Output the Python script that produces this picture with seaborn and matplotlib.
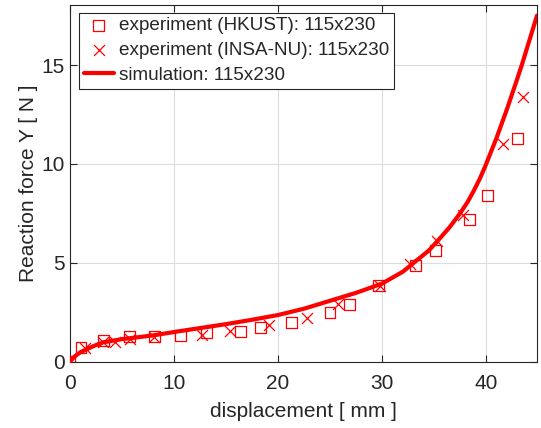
import matplotlib
matplotlib.use("Agg")
import matplotlib.pyplot as plt
import seaborn as sns
import pandas as pd

# HKUST experiment (squares)
hk_x = [0, 1.06, 3.2, 5.7, 8.1, 10.65, 13.15, 16.4, 18.3, 21.3, 25.0, 26.9, 29.7, 33.2, 35.1, 38.4, 40.1, 43.0]
hk_y = [0, 0.71, 1.06, 1.27, 1.27, 1.31, 1.48, 1.52, 1.72, 1.97, 2.5, 2.9, 3.85, 4.86, 5.6, 7.17, 8.4, 11.28]

# INSA-NU experiment (crosses)
in_x = [0, 1.44, 3.2, 4.33, 5.77, 8.1, 12.7, 15.4, 19.1, 22.8, 25.8, 29.8, 32.7, 35.3, 37.8, 41.6, 43.6]
in_y = [0, 0.71, 1.01, 1.01, 1.13, 1.27, 1.35, 1.55, 1.86, 2.2, 2.9, 3.85, 4.95, 6.08, 7.43, 11.0, 13.37]

# simulation curve
sim_x = [0, 0.3, 0.64, 1.0, 1.6, 2.3, 3.2, 5.0, 8.0, 10.0, 12.5, 15.0, 17.5, 20.0, 22.5, 25.0, 27.5, 30.0, 32.0, 33.0, 34.5, 35.5, 36.5, 37.5, 38.2, 38.8, 39.4, 39.9, 41.0, 42.0, 43.0, 43.5, 44.2, 44.9]
sim_y = [0, 0.2, 0.34, 0.48, 0.63, 0.8, 0.98, 1.14, 1.33, 1.5, 1.7, 1.9, 2.12, 2.36, 2.68, 3.08, 3.48, 3.95, 4.55, 4.98, 5.62, 6.2, 6.8, 7.5, 8.05, 8.62, 9.25, 9.85, 11.3, 12.75, 14.3, 15.1, 16.3, 17.5]

labels = ["experiment (HKUST): 115x230", "experiment (INSA-NU): 115x230", "simulation: 115x230"]

sns.set_style("ticks")
plt.rcParams['font.family'] = ['Liberation Sans', 'DejaVu Sans']

fig = plt.figure(figsize=(5.41, 4.28), dpi=100)
ax = fig.add_axes([70/541, (428-361.7)/428, (537-70)/541, (361.7-4.7)/428])

df_hk = pd.DataFrame({"x": hk_x, "y": hk_y})
df_in = pd.DataFrame({"x": in_x, "y": in_y})
df_sim = pd.DataFrame({"x": sim_x, "y": sim_y})

sns.scatterplot(data=df_hk, x="x", y="y", ax=ax, marker="s", s=62,
                facecolors="none", edgecolor="red", linewidth=0.9, label=labels[0], zorder=3)
sns.scatterplot(data=df_in, x="x", y="y", ax=ax, marker="x", s=62,
                color="red", linewidth=0.9, label=labels[1], zorder=3)
sns.lineplot(data=df_sim, x="x", y="y", ax=ax, color="red", linewidth=3.0,
             label=labels[2], zorder=4, sort=False)

ax.set_xlim(0, 44.9)
ax.set_ylim(0, 18.05)
ax.set_xticks([0, 10, 20, 30, 40])
ax.set_yticks([0, 5, 10, 15])
ax.grid(True, color="#dcdcdc", linewidth=0.8)
ax.set_axisbelow(True)
for sp in ax.spines.values():
    sp.set_visible(True)
    sp.set_color("#262626")
    sp.set_linewidth(0.8)
ax.tick_params(direction="in", top=True, right=True, length=5, width=0.8,
               labelsize=15, colors="#262626", labelcolor="#262626")
ax.tick_params(axis="x", pad=9)
ax.tick_params(axis="y", pad=4)
ax.set_xlabel("displacement [ mm ]", fontsize=15, color="#262626", labelpad=6)
ax.set_ylabel("Reaction force Y [ N ]", fontsize=15, color="#262626", labelpad=2)

leg = ax.legend(loc="upper left", bbox_to_anchor=(0.019, 0.978), fontsize=13.6,
                frameon=True, fancybox=False, framealpha=1, edgecolor="#262626",
                handlelength=1.6, handletextpad=0.25, borderpad=0.25, labelspacing=0.4,
                borderaxespad=0)
leg.get_frame().set_linewidth(0.8)

fig.savefig("out.png", dpi=100)
